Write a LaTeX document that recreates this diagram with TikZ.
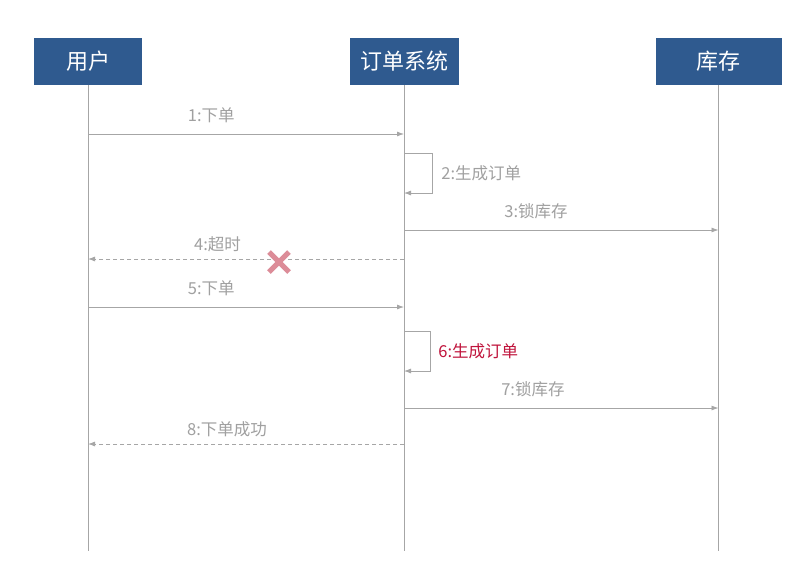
\documentclass[tikz,border=0pt]{standalone}
\usepackage{fontspec}
\setmainfont{Noto Sans CJK SC}
\usetikzlibrary{arrows.meta,positioning}
\definecolor{boxblue}{HTML}{2F5A8F}
\definecolor{msggray}{HTML}{A6A6A6}
\definecolor{txtgray}{HTML}{A0A0A0}
\definecolor{hotred}{HTML}{C0143C}
\definecolor{crosspink}{HTML}{DC8C98}
\tikzset{
  actor/.style={ % head box of a lifeline
    rectangle, fill=boxblue, text=white, minimum height=47pt,
    inner sep=0pt, font=\fontsize{22}{22}\selectfont
  },
  lifeline/.style={ % vertical line under a head box
    draw=msggray, line width=0.8pt
  },
  msg/.style={ % call between lifelines
    draw=msggray, line width=0.8pt, -{Latex[length=7pt,width=5pt]}
  },
  reply/.style={ % answer, dashed
    msg, dash pattern=on 4pt off 3pt
  },
  msglabel/.style={
    text=txtgray, inner sep=0pt, font=\fontsize{16.5}{16.5}\selectfont
  }
}

\begin{document}
\begin{tikzpicture}[x=1pt, y=-1pt]
  \useasboundingbox[fill=white] (0,0) rectangle (789,563);

  % head boxes
  \node[actor, minimum width=108pt] (user) at (88,61.5) {用户};
  \node[actor, minimum width=109pt] (order) at (404,61.5) {订单系统};
  \node[actor, minimum width=126pt] (stock) at (718.5,61.5) {库存};

  % lifelines
  \coordinate (user end) at (user.south |- 0,551);
  \coordinate (order end) at (order.south |- 0,551);
  \coordinate (stock end) at (stock.south |- 0,551);
  \draw[lifeline] (user.south) -- (user end);
  \draw[lifeline] (order.south) -- (order end);
  \draw[lifeline] (stock.south) -- (stock end);

  % points on the lifelines
  \coordinate (m1a) at (user.south |- 0,134);
  \coordinate (m1b) at (order.south |- 0,134);
  \coordinate (m2a) at (order.south |- 0,153);
  \coordinate (m2b) at (order.south |- 0,193);
  \coordinate (m3a) at (order.south |- 0,230);
  \coordinate (m3b) at (stock.south |- 0,230);
  \coordinate (m4a) at (order.south |- 0,259);
  \coordinate (m4b) at (user.south |- 0,259);
  \coordinate (m5a) at (user.south |- 0,307);
  \coordinate (m5b) at (order.south |- 0,307);
  \coordinate (m6a) at (order.south |- 0,331);
  \coordinate (m6b) at (order.south |- 0,371);
  \coordinate (m7a) at (order.south |- 0,408);
  \coordinate (m7b) at (stock.south |- 0,408);
  \coordinate (m8a) at (order.south |- 0,444);
  \coordinate (m8b) at (user.south |- 0,444);

  % messages
  \draw[msg] (m1a) -- node[msglabel, pos=0.39, above=11pt] (l1) {1:下单} (m1b);
  \draw[msg] (m2a) -- ++(28,0) -- node[msglabel, right=9pt] (l2) {2:生成订单} ++(0,40) -- (m2b);
  \draw[msg] (m3a) -- node[msglabel, pos=0.42, above=11pt] (l3) {3:锁库存} (m3b);
  \draw[reply] (m4a) -- node[msglabel, pos=0.59, above=7pt] (l4) {4:超时} (m4b);
  \draw[msg] (m5a) -- node[msglabel, pos=0.39, above=11pt] (l5) {5:下单} (m5b);
  \draw[msg] (m6a) -- ++(26,0) -- node[msglabel, text=hotred, right=8pt] (l6) {6:生成订单} ++(0,40) -- (m6b);
  \draw[msg] (m7a) -- node[msglabel, pos=0.41, above=11pt] (l7) {7:锁库存} (m7b);
  \draw[reply] (m8a) -- node[msglabel, pos=0.56, above=7pt] (l8) {8:下单成功} (m8b);

  % timeout mark
  \draw[crosspink, line width=5pt] (269,252) -- (289,272) (269,272) -- (289,252);
\end{tikzpicture}
\end{document}
